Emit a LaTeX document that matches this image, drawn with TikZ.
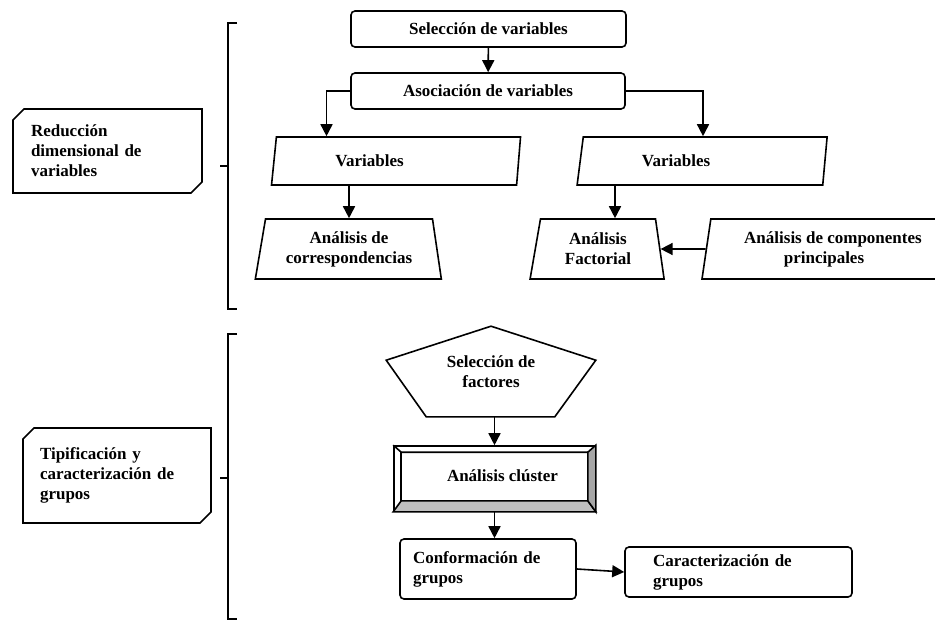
\documentclass[tikz,border=0pt]{standalone}
\usepackage{fontspec}
\setmainfont{Liberation Serif}
\usetikzlibrary{arrows.meta,calc,shapes.geometric,shapes.misc}
\tikzset{
	box/.style={draw, rounded corners=4pt, inner sep=0pt},
	slanted/.style={draw, trapezium, trapezium stretches body, inner sep=0pt},
	snipbox/.style={
			draw, chamfered rectangle, chamfered rectangle corners={north west,south east},
			chamfered rectangle xsep=8pt, inner sep=0pt, align=left
		},
	flow/.style={-{Triangle[length=12pt,width=12pt]}}
}

\begin{document}
\begin{tikzpicture}[x=1pt, y=-1pt, line width=1.6pt, font=\bfseries\fontsize{17}{20}\selectfont]
        \useasboundingbox (0, 0) rectangle (935, 621);
        \clip (0, 0) rectangle (935, 621);
        \node[snipbox, minimum width=189pt, minimum height=84pt, text width=153pt] (red_dim) at (107.5, 151) {Reducción\\dimensional de\\variables};
        \node[snipbox, minimum width=188pt, minimum height=95pt, text width=154pt] (tip_grp) at (117, 475.5) {Tipificación y\\caracterización de\\grupos};
        \coordinate (br_1_top) at (237, 23);
        \coordinate (br_1_bot) at (237, 309);
        \coordinate (br_1_mid) at (220, 166);
        \coordinate (br_2_top) at (237, 334);
        \coordinate (br_2_bot) at (237, 619);
        \coordinate (br_2_mid) at (220, 478);
        \draw (br_1_top) -- ++(-9, 0) |- (br_1_bot);
        \draw (br_1_mid) -- ++(8, 0);
        \draw (br_2_top) -- ++(-9, 0) |- (br_2_bot);
        \draw (br_2_mid) -- ++(8, 0);
        \node[box, minimum width=275pt, minimum height=36pt] (sel_var) at (488.5, 29) {Selección de variables};
        \node[box, minimum width=274pt, minimum height=36pt] (asoc_var) at (488, 91) {Asociación de variables};
        \node[slanted, trapezium left angle=68, trapezium right angle=108, minimum width=249pt, minimum height=48pt] (var_L) at (396.5, 161) {Variables\hspace*{54pt}};
        \node[slanted, trapezium left angle=63, trapezium right angle=110, minimum width=250pt, minimum height=48pt] (var_R) at (703, 161) {Variables\hspace*{54pt}};
        \node[slanted, align=center, trapezium left angle=74, trapezium right angle=76, minimum width=186pt, minimum height=60pt] (an_corr) at (349, 249) {Análisis de\\correspondencias};
        \node[slanted, align=center, trapezium left angle=72, trapezium right angle=75, minimum width=134pt, minimum height=60pt] (an_fact) at (598, 249) {Análisis\\Factorial};
        \node[slanted, align=center, trapezium left angle=76, trapezium right angle=76, minimum width=244pt, minimum height=60pt] (an_comp) at (824, 249) {\hspace*{18pt}Análisis de componentes\\principales};
        \coordinate (fact_in) at ([xshift=17pt]an_fact.north);
        \draw[flow] (sel_var) -- (asoc_var);
        \draw[flow] (asoc_var.west) -| ([xshift=-70pt]var_L.north);
        \draw[flow] (asoc_var.east) -| (var_R.north);
        \draw[flow] (var_L.south -| an_corr.north) -- (an_corr.north);
        \draw[flow] (var_R.south -| fact_in) -- (fact_in);
        \draw[flow] (an_comp) -- (an_fact);
        \node[minimum width=208pt, minimum height=89pt, inner sep=0pt, align=center] (sel_fact) at (491, 371.5) {Selección de\\factores};
        \draw (sel_fact.north) -- ($(sel_fact.north east)+(0, 34)$) -- ($(sel_fact.south east)+(-41, 0)$) -- ($(sel_fact.south west)+(40, 0)$) -- ($(sel_fact.north west)+(0, 34)$) -- cycle;
        \node[draw, minimum width=201pt, minimum height=65pt, inner sep=0pt] (an_clus) at (494.5, 478.5) {\raisebox{6pt}{\hspace*{16pt}Análisis clúster}};
        \coordinate (clus_in_nw) at ($(an_clus.north west)+(8, 7)$);
        \coordinate (clus_in_ne) at ($(an_clus.north east)+(-8, 7)$);
        \coordinate (clus_in_se) at ($(an_clus.south east)+(-8, -11)$);
        \coordinate (clus_in_sw) at ($(an_clus.south west)+(8, -11)$);
        \filldraw[fill=gray!50] (an_clus.south west) -- (clus_in_sw) -- (clus_in_se) -- (an_clus.south east) -- cycle;
        \filldraw[fill=gray!70] (an_clus.south east) -- (clus_in_se) -- (clus_in_ne) -- (an_clus.north east) -- cycle;
        \draw (an_clus.north west) -- (clus_in_nw) -- (clus_in_ne);
        \draw (clus_in_nw) -- (clus_in_sw);
        \node[box, minimum width=176pt, minimum height=60pt, text width=150pt, align=left] (conf_grp) at (488, 569) {Conformación de\\grupos};
        \node[box, minimum width=227pt, minimum height=50pt, text width=171pt, align=left] (car_grp) at (738.5, 572) {Caracterización de\\grupos};
        \draw[flow] (sel_fact.south -| an_clus.north) -- (an_clus.north);
        \draw[flow] (an_clus.south) -- (an_clus.south |- conf_grp.north);
        \draw[flow] (conf_grp.east) -- (car_grp.west);
\end{tikzpicture}
\end{document}
